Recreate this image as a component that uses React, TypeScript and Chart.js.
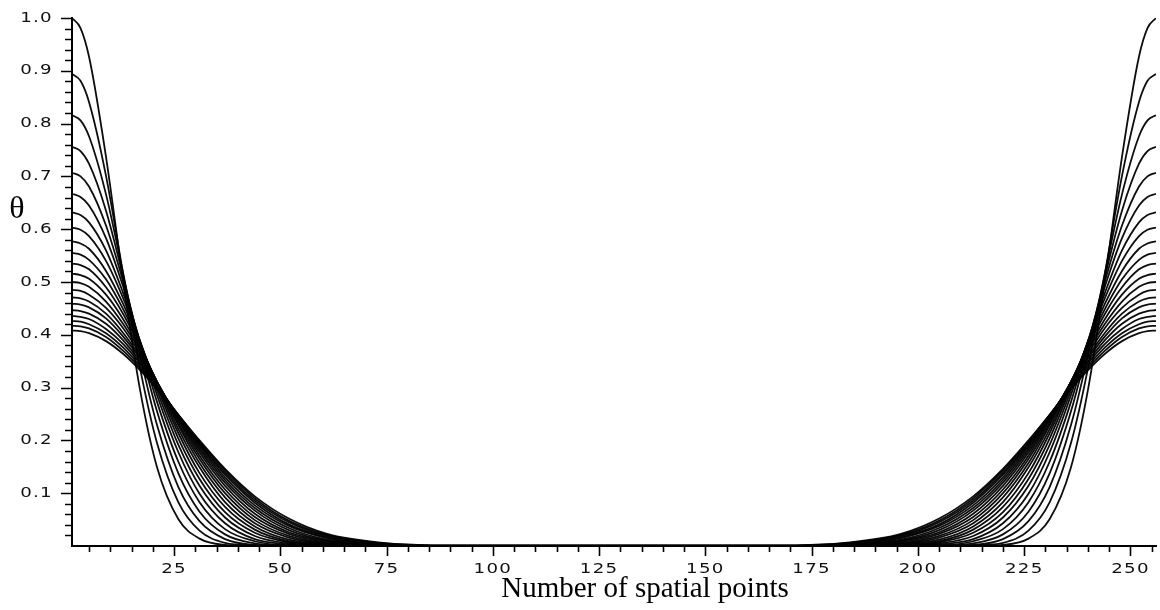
import React, { useEffect, useRef } from "react";
import { Chart, registerables } from "chart.js";

Chart.register(...registerables);

// Spatial grid: points 1..256, profiles are symmetric about the two domain ends.
const firstPoint = 1;
const lastPoint = 256;

// Distance (in spatial points) from the domain end at which each profile is sampled.
const offsets = [0, 2, 4, 8, 12, 16, 20, 25, 30, 36, 43, 51, 60, 72, 90];

// theta values, one row per curve (peak 1.0 down to 0.408).
const curve00 = [1.0, 0.981, 0.927, 0.737, 0.504, 0.296, 0.149, 0.051, 0.014, 0.002, 0, 0, 0, 0, 0];
const curve01 = [0.894, 0.881, 0.841, 0.701, 0.517, 0.337, 0.195, 0.083, 0.029, 0.006, 0.001, 0, 0, 0, 0];
const curve02 = [0.816, 0.806, 0.776, 0.666, 0.517, 0.362, 0.229, 0.112, 0.047, 0.013, 0.002, 0, 0, 0, 0];
const curve03 = [0.756, 0.748, 0.724, 0.635, 0.511, 0.377, 0.255, 0.138, 0.065, 0.022, 0.005, 0.001, 0, 0, 0];
const curve04 = [0.707, 0.7, 0.681, 0.607, 0.502, 0.384, 0.273, 0.16, 0.083, 0.032, 0.009, 0.001, 0, 0, 0];
const curve05 = [0.667, 0.661, 0.645, 0.583, 0.492, 0.388, 0.286, 0.178, 0.099, 0.043, 0.013, 0.003, 0, 0, 0];
const curve06 = [0.632, 0.627, 0.613, 0.56, 0.48, 0.388, 0.295, 0.192, 0.114, 0.054, 0.019, 0.005, 0.001, 0, 0];
const curve07 = [0.603, 0.599, 0.587, 0.54, 0.47, 0.387, 0.302, 0.204, 0.127, 0.064, 0.025, 0.007, 0.001, 0, 0];
const curve08 = [0.577, 0.573, 0.563, 0.521, 0.459, 0.384, 0.306, 0.214, 0.138, 0.074, 0.031, 0.009, 0.002, 0, 0];
const curve09 = [0.555, 0.552, 0.542, 0.505, 0.449, 0.381, 0.309, 0.222, 0.149, 0.083, 0.037, 0.012, 0.003, 0, 0];
const curve10 = [0.535, 0.532, 0.524, 0.49, 0.44, 0.378, 0.311, 0.229, 0.157, 0.092, 0.043, 0.016, 0.004, 0.001, 0];
const curve11 = [0.516, 0.513, 0.506, 0.476, 0.43, 0.373, 0.311, 0.233, 0.165, 0.1, 0.049, 0.019, 0.005, 0.001, 0];
const curve12 = [0.5, 0.498, 0.491, 0.463, 0.421, 0.369, 0.311, 0.238, 0.171, 0.107, 0.055, 0.023, 0.007, 0.001, 0];
const curve13 = [0.485, 0.483, 0.476, 0.451, 0.413, 0.364, 0.31, 0.241, 0.177, 0.114, 0.061, 0.026, 0.009, 0.001, 0];
const curve14 = [0.471, 0.469, 0.463, 0.44, 0.404, 0.359, 0.308, 0.243, 0.182, 0.12, 0.067, 0.03, 0.01, 0.002, 0];
const curve15 = [0.459, 0.457, 0.452, 0.431, 0.397, 0.355, 0.307, 0.245, 0.186, 0.125, 0.072, 0.034, 0.012, 0.003, 0];
const curve16 = [0.447, 0.445, 0.44, 0.421, 0.39, 0.35, 0.305, 0.247, 0.19, 0.13, 0.077, 0.038, 0.015, 0.003, 0];
const curve17 = [0.436, 0.434, 0.43, 0.411, 0.383, 0.346, 0.303, 0.247, 0.193, 0.135, 0.082, 0.041, 0.017, 0.004, 0];
const curve18 = [0.426, 0.425, 0.42, 0.403, 0.376, 0.341, 0.301, 0.248, 0.195, 0.139, 0.086, 0.045, 0.019, 0.005, 0];
const curve19 = [0.417, 0.416, 0.412, 0.396, 0.37, 0.337, 0.299, 0.249, 0.198, 0.143, 0.09, 0.048, 0.021, 0.006, 0.001];
const curve20 = [0.408, 0.407, 0.403, 0.388, 0.364, 0.333, 0.297, 0.248, 0.2, 0.146, 0.094, 0.052, 0.023, 0.007, 0.001];

const curves = [
  curve00, curve01, curve02, curve03, curve04, curve05, curve06, curve07,
  curve08, curve09, curve10, curve11, curve12, curve13, curve14, curve15,
  curve16, curve17, curve18, curve19, curve20,
];

// Axis ticks and labels
const xMajorTicks = [25, 50, 75, 100, 125, 150, 175, 200, 225, 250];
const xMinorStep = 5;
const yMajorTicks = [0.1, 0.2, 0.3, 0.4, 0.5, 0.6, 0.7, 0.8, 0.9, 1.0];
const yMinorStep = 0.02;
const xTitle = "Number of spatial points";
const yTitle = "θ";

function buildDataset(values: number[]) {
  const left = offsets.map((o, i) => ({ x: firstPoint + o, y: values[i] }));
  const right = offsets
    .map((o, i) => ({ x: lastPoint - o, y: values[i] }))
    .reverse();
  return {
    data: [...left, ...right],
    borderColor: "rgba(0,0,0,0.95)",
    borderWidth: 1.8,
    pointRadius: 0,
    fill: false,
    cubicInterpolationMode: "monotone" as const,
  };
}

function wideText(ctx: CanvasRenderingContext2D, text: string, x: number, y: number, align: CanvasTextAlign) {
  ctx.save();
  ctx.translate(x, y);
  ctx.scale(1.3, 1);
  ctx.textAlign = align;
  ctx.textBaseline = "middle";
  ctx.fillText(text, 0, 0);
  ctx.restore();
}

const axisDecor = {
  id: "axisDecor",
  afterDraw(chart: any) {
    const { ctx, chartArea, scales } = chart;
    const xs = scales.x;
    const ys = scales.y;
    ctx.save();
    ctx.strokeStyle = "#000";
    ctx.lineWidth = 1.6;
    ctx.beginPath();
    for (let v = xMinorStep; v <= lastPoint; v += xMinorStep) {
      const px = Math.round(xs.getPixelForValue(v)) + 0.5;
      const len = xMajorTicks.includes(v) ? 10 : 6;
      ctx.moveTo(px, chartArea.bottom);
      ctx.lineTo(px, chartArea.bottom + len);
    }
    const nY = Math.round(1 / yMinorStep);
    for (let i = 1; i <= nY; i++) {
      const v = i * yMinorStep;
      const py = Math.round(ys.getPixelForValue(v)) + 0.5;
      const major = yMajorTicks.some((t) => Math.abs(t - v) < 1e-6);
      const len = major ? 11 : 7;
      ctx.moveTo(chartArea.left, py);
      ctx.lineTo(chartArea.left - len, py);
    }
    ctx.stroke();

    ctx.fillStyle = "#111";
    ctx.font = '14px "DejaVu Sans"';
    (ctx as any).letterSpacing = "1px";
    xMajorTicks.forEach((v) => {
      wideText(ctx, String(v), xs.getPixelForValue(v), chartArea.bottom + 23, "center");
    });
    yMajorTicks.forEach((v) => {
      wideText(ctx, v.toFixed(1), chartArea.left - 19, ys.getPixelForValue(v), "right");
    });
    (ctx as any).letterSpacing = "0px";

    ctx.fillStyle = "#000";
    ctx.font = '29px "Liberation Serif"';
    ctx.textAlign = "center";
    ctx.textBaseline = "alphabetic";
    ctx.fillText(xTitle, (chartArea.left + chartArea.right) / 2 + 31, 597);

    ctx.font = '32px "Liberation Serif"';
    ctx.textBaseline = "middle";
    ctx.fillText(yTitle, 17, 210);
    ctx.restore();
  },
};

export default function App() {
  const canvasRef = useRef<HTMLCanvasElement | null>(null);

  useEffect(() => {
    const canvas = canvasRef.current;
    if (!canvas) return;
    const chart = new Chart(canvas, {
      type: "line",
      data: { datasets: curves.map(buildDataset) },
      options: {
        animation: false,
        responsive: false,
        maintainAspectRatio: false,
        layout: { padding: { left: 72, top: 18, right: 4, bottom: 64 } },
        plugins: {
          legend: { display: false },
          tooltip: { enabled: false },
          title: { display: false },
        },
        scales: {
          x: {
            type: "linear",
            min: firstPoint,
            max: lastPoint,
            grid: { display: false, drawTicks: false },
            ticks: { display: false },
            border: { display: true, color: "#000", width: 2 },
          },
          y: {
            type: "linear",
            min: 0,
            max: 1,
            grid: { display: false, drawTicks: false },
            ticks: { display: false },
            border: { display: true, color: "#000", width: 2 },
          },
        },
      },
      plugins: [axisDecor],
    });
    return () => chart.destroy();
  }, []);

  return (
    <div style={{ position: "fixed", left: 0, top: 0, width: 1160, height: 610, background: "#fff" }}>
      <canvas ref={canvasRef} width={1160} height={610} style={{ display: "block" }} />
    </div>
  );
}
